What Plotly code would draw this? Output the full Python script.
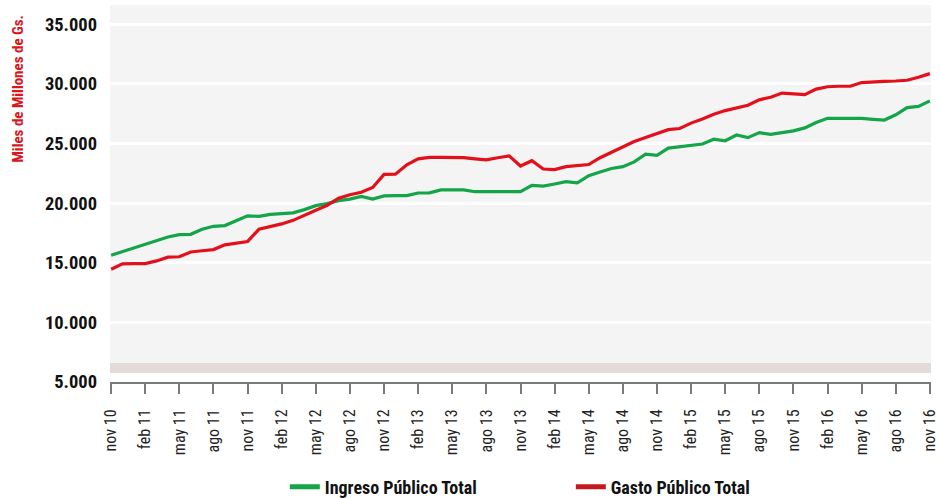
import plotly.graph_objects as go

# monthly index 0 = nov 10 ... 72 = nov 16
n_points = 73
tick_labels = ["nov 10", "feb 11", "may 11", "ago 11", "nov 11", "feb 12", "may 12", "ago 12",
               "nov 12", "feb 13", "may 13", "ago 13", "nov 13", "feb 14", "may 14", "ago 14",
               "nov 14", "feb 15", "may 15", "ago 15", "nov 15", "feb 16", "may 16", "ago 16", "nov 16"]

ingreso = [15630, 15920, 16210, 16510, 16800, 17150, 17350, 17380, 17800, 18050,
           18110, 18500, 18930, 18880, 19050, 19120, 19180, 19450, 19780, 19950,
           20200, 20330, 20560, 20330, 20600, 20620, 20620, 20840, 20860, 21100,
           21110, 21110, 20950, 20950, 20950, 20950, 20960, 21480, 21420, 21600,
           21800, 21700, 22300, 22600, 22900, 23050, 23450, 24100, 24000, 24600,
           24700, 24800, 24950, 25350, 25220, 25700, 25480, 25900, 25750, 25900,
           26050, 26300, 26750, 27100, 27100, 27150, 27100, 27020, 26960, 27400,
           28000, 28100, 28560]

gasto = [14450, 14900, 14920, 14920, 15150, 15460, 15500, 15900, 16000, 16100,
         16500, 16650, 16780, 17800, 18000, 18250, 18550, 19000, 19400, 19800,
         20400, 20700, 20900, 21300, 22400, 22420, 23200, 23700, 23820, 23820,
         23820, 23800, 23700, 23620, 23800, 23950, 23100, 23550, 22850, 22810,
         23050, 23150, 23230, 23800, 24250, 24700, 25150, 25500, 25800, 26150,
         26250, 26700, 27050, 27450, 27750, 28000, 28200, 28650, 28870, 29220,
         29150, 29080, 29550, 29750, 29790, 29790, 30100, 30170, 30200, 30230,
         30290, 30550, 30850]

x_idx = list(range(n_points))
tick_vals = list(range(0, n_points, 3))

GREEN = "#13a548"
RED = "#e3101b"
RED_LEG = "#c4191f"
FONT = "Liberation Sans Narrow, Roboto Condensed, DejaVu Sans Condensed, Arial Narrow, sans-serif"

fig = go.Figure()
fig.add_trace(go.Scatter(x=x_idx, y=ingreso, mode="lines", line=dict(color=GREEN, width=3.2),
                         name="Ingreso Público Total", showlegend=False))
fig.add_trace(go.Scatter(x=x_idx, y=gasto, mode="lines", line=dict(color=RED, width=3.2),
                         name="Gasto Público Total", showlegend=False))
# legend entries
fig.add_trace(go.Scatter(x=[None], y=[None], mode="lines", line=dict(color=GREEN, width=5),
                         name="Ingreso Público Total"))
fig.add_trace(go.Scatter(x=[None], y=[None], mode="lines", line=dict(color=RED_LEG, width=5),
                         name="Gasto Público Total"))

Y_TOP = 36600
fig.add_shape(type="rect", xref="paper", yref="y", x0=0, x1=1, y0=6600, y1=Y_TOP,
              fillcolor="#f4f4f4", line_width=0, layer="below")
fig.add_shape(type="rect", xref="paper", yref="y", x0=0, x1=1, y0=5750, y1=6600,
              fillcolor="#e2dbd7", line_width=0, layer="below")

fig.update_layout(
    width=940, height=498,
    margin=dict(l=110, r=9, t=5, b=116, autoexpand=False),
    paper_bgcolor="white", plot_bgcolor="white",
    separators=",.",
    font=dict(family=FONT, color="#111"),
    showlegend=True,
    legend=dict(orientation="h", xref="container", yref="container",
                x=0.303, xanchor="left", y=0.022, yanchor="middle",
                font=dict(size=18, family=FONT, color="#111", weight="bold"),
                entrywidth=241, entrywidthmode="pixels",
                bgcolor="rgba(0,0,0,0)", itemwidth=30, tracegroupgap=0),
    annotations=[dict(text="Miles de Millones de Gs.", xref="paper", yref="paper",
                      x=(17 - 110) / 821, y=(382 - 14) / 377, xanchor="center", yanchor="top",
                      textangle=-90, showarrow=False,
                      font=dict(size=15, family=FONT, color="#d7191f", weight="bold"))],
)

fig.update_xaxes(range=[-0.1, 72.1], tickvals=tick_vals, ticktext=tick_labels,
                 tickangle=-90, tickfont=dict(size=16, family=FONT, color="#222"),
                 showgrid=False, zeroline=False, automargin=False,
                 showline=True, linecolor="#7a7a7a", linewidth=2,
                 ticks="outside", ticklen=10, tickwidth=2, tickcolor="#7a7a7a",
                 ticklabelstandoff=9)
fig.update_yaxes(range=[5000, Y_TOP], tickvals=[5000, 10000, 15000, 20000, 25000, 30000, 35000],
                 tickformat=",d", automargin=False,
                 tickfont=dict(size=18.5, family=FONT, color="#111", weight="bold"),
                 showgrid=True, gridcolor="white", gridwidth=3,
                 zeroline=False, showline=False, ticks="", ticklabelstandoff=12)

fig.write_html("out.html", config={"displayModeBar": False},
               post_script="document.body.style.margin='0';document.body.style.overflow='hidden';")
